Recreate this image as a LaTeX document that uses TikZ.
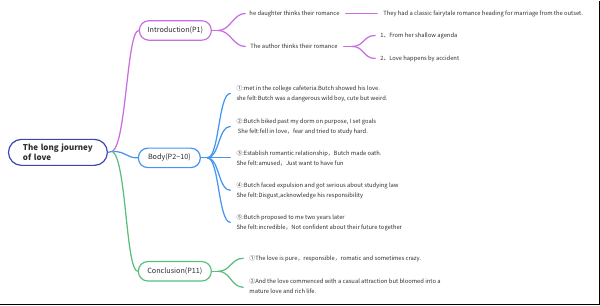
\documentclass[tikz,border=0pt]{standalone}
\usepackage{fontspec}
\setmainfont{Noto Sans CJK SC}
\definecolor{cpur}{RGB}{200,110,225}
\definecolor{cblue}{RGB}{70,150,240}
\definecolor{cgreen}{RGB}{90,190,125}
\definecolor{croot}{RGB}{60,70,170}
\definecolor{txt}{RGB}{45,45,45}
\begin{document}
\begin{tikzpicture}[x=1pt,y=-1pt,
  every node/.style={inner sep=0pt, text=txt},
  mainbox/.style={draw, line width=1.2pt, rounded corners=9.5pt, minimum height=19.5pt, font=\fontsize{7.2}{8}\selectfont, fill=white},
  item/.style={anchor=west, align=left, font=\fontsize{5.8}{10}\selectfont},
  link/.style={line width=1.25pt, line cap=round}
]
\path (0,0) rectangle (600,305);
\draw[line width=1pt] (0,303.8) -- (599.5,303.8) -- (599.5,0);

% root
\node[draw=croot, line width=1.2pt, rounded corners=13pt, minimum width=99pt, minimum height=26pt,
      text width=70pt, align=left, font=\fontsize{8}{10}\selectfont\bfseries] (root) at (57.5,152) {The long journey\\of love};
\coordinate (rj) at (112,151);

% main nodes
\node[mainbox, draw=cpur, minimum width=72pt] (intro) at (175,30) {Introduction(P1)};
\node[mainbox, draw=cblue, minimum width=62pt] (body) at (169,157.5) {Body(P2\textasciitilde10)};
\node[mainbox, draw=cgreen, minimum width=73pt] (concl) at (174.5,271) {Conclusion(P11)};

\draw[link, cblue] (root.east) -- (rj);
\draw[link, cpur] (rj) .. controls +(14,-8) and +(-12,0) .. (intro.west);
\draw[link, cblue] (rj) .. controls +(14,0) and +(-12,0) .. (body.west);
\draw[link, cgreen] (rj) .. controls +(14,8) and +(-12,0) .. (concl.west);

% introduction branch
\coordinate (ij) at (218,30);
\node[item] (daughter) at (249,13) {he daughter thinks their romance};
\node[item] (author) at (250,46) {The author thinks their romance};
\node[item] (classic) at (383,13) {They had a classic fairytale romance heading for marriage from the outset.};
\node[item] (a1) at (380,35) {1、From her shallow agenda};
\node[item] (a2) at (380,58) {2、Love happens by accident};
\coordinate (aj) at (352,46);
\draw[link, cpur] (intro.east) -- (ij);
\draw[link, cpur] (ij) .. controls +(12,0) and +(-12,0) .. ([xshift=-4pt]daughter.west);
\draw[link, cpur] (ij) .. controls +(12,0) and +(-12,0) .. ([xshift=-5pt]author.west);
\draw[link, cpur] ([xshift=6pt]daughter.east) -- ([xshift=-6pt]classic.west);
\draw[link, cpur] ([xshift=6pt]author.east) -- (aj);
\draw[link, cpur] (aj) .. controls +(12,0) and +(-12,0) .. ([xshift=-5pt]a1.west);
\draw[link, cpur] (aj) .. controls +(12,0) and +(-12,0) .. ([xshift=-5pt]a2.west);

% body branch
\coordinate (bj) at (207,157.5);
\node[item] (b1) at (236,93) {①:met in the college cafeteria.Butch showed his love.\\she felt:Butch was a dangerous wild boy, cute but weird.};
\node[item] (b2) at (236,126) {②:Butch biked past my dorm on purpose, I set goals\\\ She felt:fell in love，fear and tried to study hard.};
\node[item] (b3) at (236,157.5) {③:Establish romantic relationship，Butch made oath.\\She felt:amused，Just want to have fun};
\node[item] (b4) at (236,190) {④:Butch faced expulsion and got serious about studying law\\She felt:Disgust,acknowledge his responsibility};
\node[item] (b5) at (236,222) {⑤:Butch proposed to me two years later\\She felt:incredible，Not confident about their future together};
\draw[link, cblue] (body.east) -- (bj);
\foreach \n in {b1,b2,b4,b5}{
  \draw[link, cblue] (bj) .. controls +(12,0) and +(-12,0) .. ([xshift=-6pt]\n.west);
}
\draw[link, cblue] (bj) -- ([xshift=-6pt]b3.west);

% conclusion branch
\coordinate (cj) at (218,271);
\node[item] (c1) at (249,258) {①The love is pure，responsible，romatic and sometimes crazy.};
\node[item] (c2) at (249,286) {②And the love commenced with a casual attraction but bloomed into a\\mature love and rich life.};
\draw[link, cgreen] (concl.east) -- (cj);
\draw[link, cgreen] (cj) .. controls +(12,0) and +(-12,0) .. ([xshift=-6pt]c1.west);
\draw[link, cgreen] (cj) .. controls +(12,0) and +(-12,0) .. ([xshift=-6pt,yshift=-1pt]c2.west);
\end{tikzpicture}
\end{document}
